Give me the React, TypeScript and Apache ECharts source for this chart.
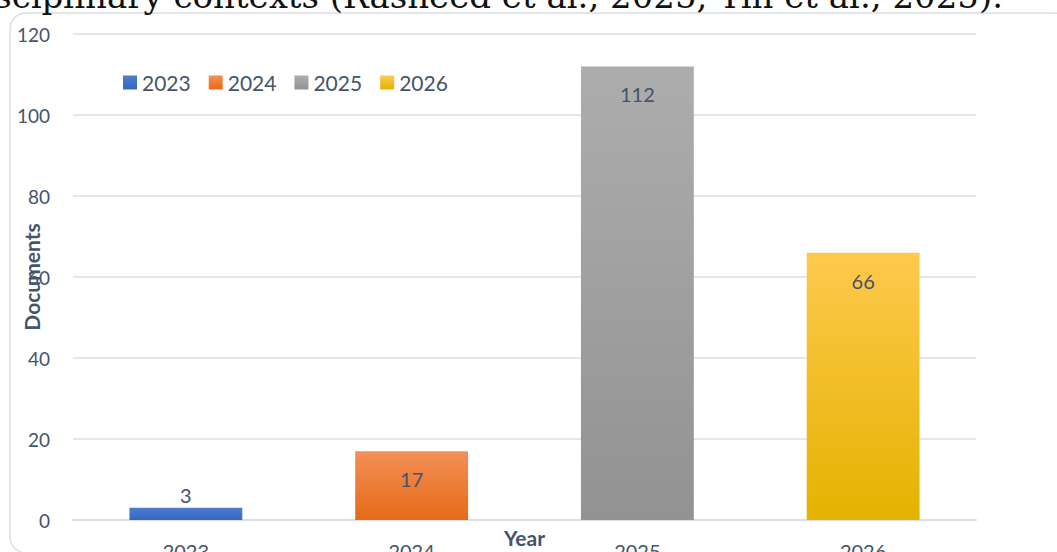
import React, { useEffect, useRef } from "react";
import * as echarts from "echarts";

const categories = ["2023", "2024", "2025", "2026"];
const seriesNames = ["2023", "2024", "2025", "2026"];
const values = [3, 17, 112, 66];
const gradients = [
  ["#4E7DD2", "#3965BE"],
  ["#F39058", "#E66A17"],
  ["#ADADAD", "#929292"],
  ["#FFC94E", "#E2B300"],
];
const yTicks = { min: 0, max: 120, interval: 20 };
const topText = "disciplinary contexts (Rasheed et al., 2025; Yin et al., 2025).";

const FONT = "Lato, 'Open Sans', sans-serif";
const TXT = "#44546A";

export default function App() {
  const ref = useRef<HTMLDivElement>(null);
  useEffect(() => {
    if (!ref.current) return;
    const chart = echarts.init(ref.current, null, { renderer: "svg" });
    const series = seriesNames.map((name, i) => ({
      name,
      type: "bar",
      barWidth: "50%",
      barGap: "-100%",
      data: categories.map((_, j) => (j === i ? values[j] : "-")),
      itemStyle: {
        color: new echarts.graphic.LinearGradient(0, 0, 0, 1, [
          { offset: 0, color: gradients[i][0] },
          { offset: 1, color: gradients[i][1] },
        ]),
      },
      label: {
        show: true,
        position: values[i] < 10 ? "top" : "insideTop",
        distance: values[i] < 10 ? 3 : 18,
        color: TXT,
        fontSize: 20,
        fontFamily: FONT,
      },
    }));
    chart.setOption({
      animation: false,
      backgroundColor: "#ffffff",
      textStyle: { fontFamily: FONT },
      legend: {
        left: 118,
        top: 67,
        itemWidth: 14,
        itemHeight: 14,
        itemGap: 18,
        icon: "rect",
        textStyle: { color: TXT, fontSize: 21, fontFamily: FONT },
        data: seriesNames,
      },
      grid: { left: 73, right: 81, top: 34, bottom: 32, outerBoundsMode: "none", containLabel: false },
      xAxis: {
        type: "category",
        data: categories,
        name: "Year",
        nameLocation: "middle",
        nameGap: 7,
        nameMoveOverlap: false,
        nameTextStyle: { color: TXT, fontSize: 21, fontWeight: "bold", fontFamily: FONT },
        axisLine: { lineStyle: { color: "#D9DEE6", width: 2 } },
        axisTick: { show: false },
        axisLabel: { color: TXT, fontSize: 20, margin: 21, fontFamily: FONT },
      },
      yAxis: {
        type: "value",
        min: yTicks.min,
        max: yTicks.max,
        interval: yTicks.interval,
        name: "Documents",
        nameLocation: "middle",
        nameGap: 31,
        nameMoveOverlap: false,
        nameTextStyle: { color: TXT, fontSize: 21, fontWeight: "bold", fontFamily: FONT },
        axisLine: { show: false },
        axisTick: { show: false },
        axisLabel: { color: TXT, fontSize: 19, margin: 23, fontFamily: FONT },
        splitLine: { lineStyle: { color: "#E2E6EE", width: 2 } },
      },
      graphic: [
        {
          type: "rect",
          shape: { x: 10, y: 13, width: 1060, height: 540, r: 16 },
          style: { fill: "none", stroke: "#D9DEE7", lineWidth: 1.5 },
          z: 0,
          silent: true,
        },
        {
          type: "text",
          x: 1003,
          y: 13,
          style: {
            text: topText,
            font: "34px 'DejaVu Serif', 'Liberation Serif', serif",
            fill: "#111111",
            textAlign: "right",
            textVerticalAlign: "bottom",
          },
          z: 10,
          silent: true,
        },
      ],
      series,
    });
    return () => chart.dispose();
  }, []);
  return (
    <div
      ref={ref}
      style={{ position: "fixed", left: 0, top: 0, width: 1057, height: 552 }}
    />
  );
}
